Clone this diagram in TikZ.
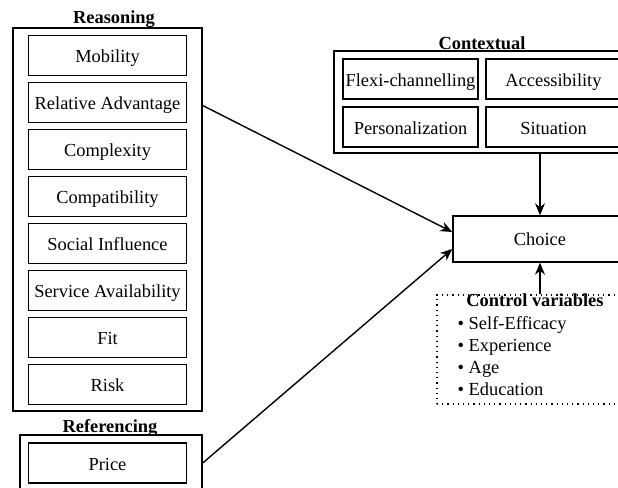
\documentclass[tikz,border=0pt]{standalone}
\usepackage{fontspec}
\setmainfont{Liberation Serif}
\usetikzlibrary{positioning, arrows.meta}

\begin{document}
\begin{tikzpicture}[x=0.5pt, y=-0.5pt, line width=0.7pt,
  font=\fontsize{9.2}{11}\selectfont,
  item/.style={draw, minimum width=79pt, minimum height=20pt, inner sep=0pt, text height=7pt, text depth=0pt},
  ctxitem/.style={draw, minimum width=67.5pt, minimum height=20pt, inner sep=0pt, text height=7pt, text depth=0pt},
  heading/.style={font=\fontsize{9.2}{11}\selectfont\bfseries, inner sep=0pt}]
  \useasboundingbox (0,0) rectangle (618,488);
  \clip (0,0) rectangle (618,488);

  % Reasoning
  \node[draw, minimum width=94.5pt, minimum height=191.5pt] (reason) at (107.5,219.5) {};
  \node[heading] (reasontitle) at (114,19) {Reasoning};
  \foreach \name/\txt [count=\i from 0] in {mob/Mobility, reladv/Relative Advantage,
      cplx/Complexity, compat/Compatibility, social/Social Influence,
      service/Service Availability, fit/Fit, risk/Risk}
    \node[item] (\name) at (107.5, 55.5+47*\i) {\txt};

  % Referencing
  \node[draw, minimum width=91pt, minimum height=30pt] (refer) at (111,465) {};
  \node[heading] (refertitle) at (110,428) {Referencing};
  \node[item] (price) at (107.5,463) {Price};

  % Contextual
  \node[draw, minimum width=148pt, minimum height=51pt] (ctx) at (482,102) {};
  \node[heading] (ctxtitle) at (482,43) {Contextual};
  \node[ctxitem] (flexi) at (410.5,79) {Flexi-channelling};
  \node[ctxitem] (access) at (553.5,79) {Accessibility};
  \node[ctxitem] (person) at (410.5,127) {Personalization};
  \node[ctxitem] (situ) at (553.5,127) {Situation};

  % Choice
  \node[draw, minimum width=87pt, minimum height=23pt, text height=6.5pt, text depth=0pt] (choice) at (540,239) {Choice};

  % Control variables
  \node[draw, dotted, line width=0.6pt, minimum width=103pt, minimum height=54.5pt] (ctrl) at (540,349.5) {};
  \node[heading] (ctrltitle) at (535,300) {Control variables};
  \node[anchor=west, align=left, inner sep=0pt] (ctrllist) at (457,356)
    {\textbullet\ Self-Efficacy\\ \textbullet\ Experience\\ \textbullet\ Age\\ \textbullet\ Education};

  % Arrows
  \draw[-{Stealth[length=6pt, width=5pt]}] (reason.east |- reladv.east) ++(0,3) -- ([yshift=3.5pt]choice.west);
  \draw[-{Stealth[length=6pt, width=5pt]}] (refer.east |- price.east) -- ([yshift=-5pt]choice.west);
  \draw[-{Stealth[length=6pt, width=5pt]}] (choice.north |- ctx.south) -- (choice.north);
  \draw[-{Stealth[length=6pt, width=5pt]}] (choice.south |- ctrl.north) -- (choice.south);
\end{tikzpicture}
\end{document}
